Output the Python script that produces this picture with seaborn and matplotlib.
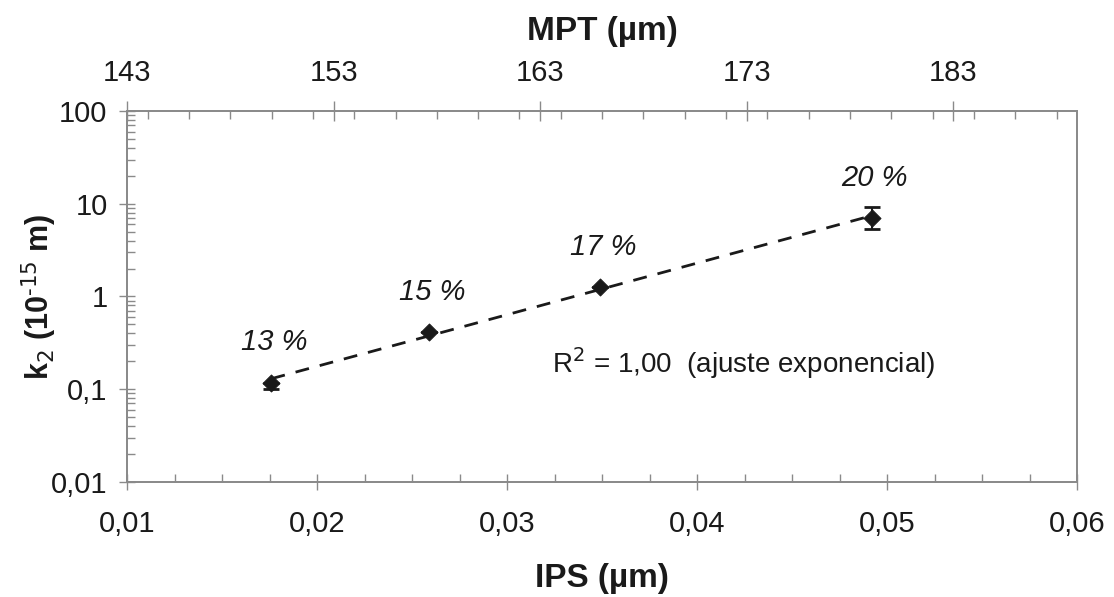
import numpy as np
import pandas as pd
import matplotlib
matplotlib.use("Agg")
import matplotlib.pyplot as plt
import matplotlib.ticker as mticker
import seaborn as sns

# dados
ips = [0.0176, 0.0259, 0.0349, 0.0492]
k2 = [0.117, 0.414, 1.27, 7.0]
k2_err_low = [0.017, 0.0, 0.0, 1.7]
k2_err_high = [0.0, 0.0, 0.0, 2.2]
porosidade = ["13 %", "15 %", "17 %", "20 %"]
mpt_lim = [143, 189]
mpt_ticks = [143, 153, 163, 173, 183]

df = pd.DataFrame({"IPS": ips, "k2": k2, "rotulo": porosidade})

sns.set_style("ticks")
plt.rcParams["font.family"] = ["Liberation Sans", "DejaVu Sans"]
plt.rcParams["axes.unicode_minus"] = False
cinza = "#8a8a8a"
texto = "#1a1a1a"

fig = plt.figure(figsize=(11.14, 5.97), dpi=100)
ax = fig.add_axes([0.114, 0.193, 0.853, 0.621])

# ajuste exponencial (linha de tendência)
coef = np.polyfit(df["IPS"], np.log(df["k2"]), 1)
xs = np.linspace(min(ips), max(ips), 100)
ajuste = pd.DataFrame({"IPS": xs, "k2": np.exp(np.polyval(coef, xs))})
sns.lineplot(data=ajuste, x="IPS", y="k2", ax=ax, color=texto, lw=2,
             linestyle=(0, (5, 4)), zorder=2)

ax.errorbar(ips, k2, yerr=[k2_err_low, k2_err_high], fmt="none",
            ecolor=texto, elinewidth=1.5, capsize=6, capthick=2, zorder=3)
sns.scatterplot(data=df, x="IPS", y="k2", ax=ax, marker="D", s=75,
                color=texto, edgecolor=texto, zorder=4)

for _, r in df.iterrows():
    ax.annotate(r["rotulo"], (r["IPS"], r["k2"]), xytext=(2, 29),
                textcoords="offset points", ha="center", va="center",
                fontsize=21, style="italic", color=texto)

ax.text(0.03237, 0.19, "R$^2$ = 1,00  (ajuste exponencial)", fontsize=20,
        color=texto, va="center")

ax.set_yscale("log")
ax.set_xlim(0.01, 0.06)
ax.set_ylim(0.01, 100)
ax.xaxis.set_major_locator(mticker.MultipleLocator(0.01))
ax.xaxis.set_minor_locator(mticker.MultipleLocator(0.0025))
ax.xaxis.set_major_formatter(mticker.FuncFormatter(
    lambda v, p: f"{v:.2f}".replace(".", ",")))
ax.yaxis.set_major_locator(mticker.LogLocator(base=10, numticks=10))
ax.yaxis.set_minor_locator(mticker.LogLocator(base=10, subs=np.arange(2, 10), numticks=10))
ax.yaxis.set_major_formatter(mticker.FuncFormatter(
    lambda v, p: (f"{v:g}").replace(".", ",")))

ax.set_xlabel("IPS (µm)", fontsize=24, fontweight="bold", color=texto, labelpad=18)
ax.set_ylabel("k$_2$ (10$^{\u201015}$ m)", fontsize=22, fontweight="bold",
              color=texto, labelpad=-6)

for s in ax.spines.values():
    s.set_color(cinza)
    s.set_linewidth(1.3)
ax.tick_params(axis="both", which="major", direction="inout", length=12,
               width=1, color=cinza, labelsize=21, labelcolor=texto)
ax.tick_params(axis="x", which="major", pad=14)
ax.tick_params(axis="y", which="major", pad=8)
ax.tick_params(axis="both", which="minor", direction="in", length=6,
               width=1, color=cinza)

# eixo superior MPT
ax2 = ax.twiny()
ax2.set_xlim(mpt_lim)
ax2.set_xticks(mpt_ticks)
ax2.xaxis.set_minor_locator(mticker.MultipleLocator(2))
ax2.set_xlabel("MPT (µm)", fontsize=24, fontweight="bold", color=texto, labelpad=14)
ax2.tick_params(axis="x", which="major", direction="inout", length=14,
                width=1, color=cinza, labelsize=21, labelcolor=texto, pad=10)
ax2.tick_params(axis="x", which="minor", direction="in", length=6,
                width=1, color=cinza)
for s in ax2.spines.values():
    s.set_color(cinza)
    s.set_linewidth(1.3)

fig.savefig("out.png", dpi=100)
